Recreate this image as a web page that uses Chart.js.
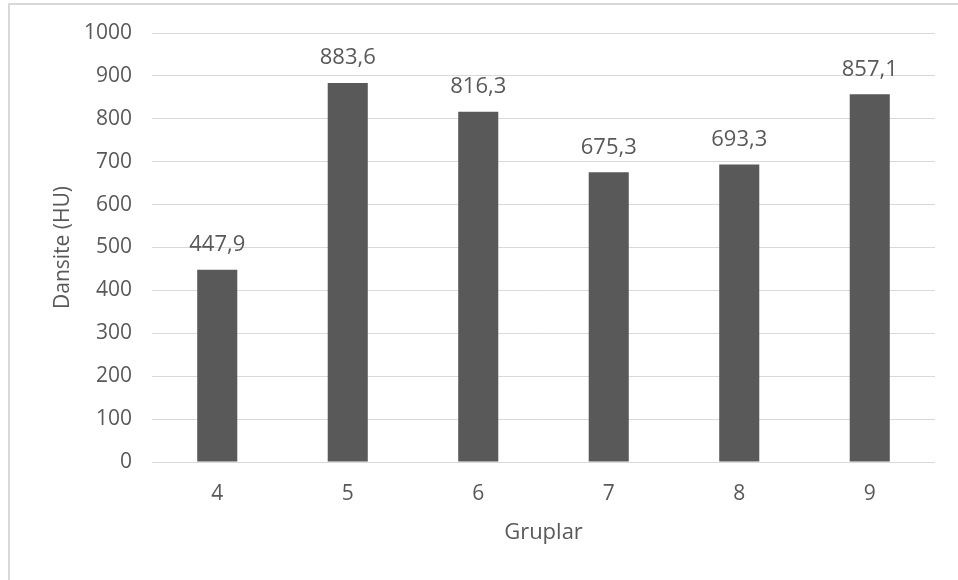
<!DOCTYPE html>
<html>
<head>
<meta charset="utf-8">
<script src="https://cdn.jsdelivr.net/npm/chart.js@4"></script>
<style>
  html, body { margin: 0; padding: 0; background: #ffffff; }
  #wrap { position: relative; width: 958px; height: 580px; overflow: hidden; }
  #frame { position: absolute; left: 8px; top: 3px; width: 980px; height: 600px;
           border-left: 2px solid #d9d9d9; border-top: 2px solid #d9d9d9; box-sizing: border-box; }
  canvas { position: absolute; left: 0; top: 0; }
</style>
</head>
<body>
<div id="wrap">
  <div id="frame"></div>
  <canvas id="c" width="958" height="580"></canvas>
</div>
<script>
// Group labels and mean density per group (HU)
const groups = ['4', '5', '6', '7', '8', '9'];
const density = [447.9, 883.6, 816.3, 675.3, 693.3, 857.1];
const yTicks = [0, 100, 200, 300, 400, 500, 600, 700, 800, 900, 1000];

const FONT = "'Open Sans', 'Noto Sans', sans-serif";
const TEXT = '#595959';
const SIZE = 21;

// Value labels above each bar, Turkish decimal comma
const valueLabels = {
  id: 'valueLabels',
  afterDatasetsDraw(chart) {
    const ctx = chart.ctx;
    const meta = chart.getDatasetMeta(0);
    ctx.save();
    ctx.font = '22px ' + FONT;
    ctx.fillStyle = TEXT;
    ctx.textAlign = 'center';
    ctx.textBaseline = 'middle';
    meta.data.forEach((bar, i) => {
      const txt = density[i].toFixed(1).replace('.', ',');
      ctx.fillText(txt, bar.x, bar.y - 25);
    });
    ctx.restore();
  }
};

new Chart(document.getElementById('c'), {
  type: 'bar',
  data: {
    labels: groups,
    datasets: [{
      data: density,
      backgroundColor: '#595959',
      borderWidth: 0,
      categoryPercentage: 1,
      barPercentage: 0.307
    }]
  },
  options: {
    responsive: false,
    animation: false,
    layout: { padding: { left: 0, top: 33, right: 23, bottom: 0 } },
    plugins: { legend: { display: false }, tooltip: { enabled: false } },
    scales: {
      x: {
        grid: { display: false, drawTicks: false },
        border: { display: false },
        ticks: { color: TEXT, font: { family: FONT, size: SIZE }, padding: 19 },
        title: { display: true, text: 'Gruplar', color: TEXT,
                 font: { family: FONT, size: 22 }, padding: { top: 0, bottom: 34 } },
        afterFit(scale) { scale.height = 118; }
      },
      y: {
        min: 0, max: 1000,
        afterBuildTicks(scale) { scale.ticks = yTicks.map(v => ({ value: v })); },
        grid: { color: '#d9d9d9', lineWidth: 1, drawTicks: false },
        border: { display: false },
        ticks: { color: TEXT, font: { family: FONT, size: SIZE }, padding: 20,
                 callback: v => String(v) },
        title: { display: true, text: 'Dansite (HU)', color: TEXT,
                 font: { family: FONT, size: 21 }, padding: { top: 50, bottom: 0 } },
        afterFit(scale) { scale.width = 152; }
      }
    }
  },
  plugins: [valueLabels]
});
</script>
</body>
</html>
